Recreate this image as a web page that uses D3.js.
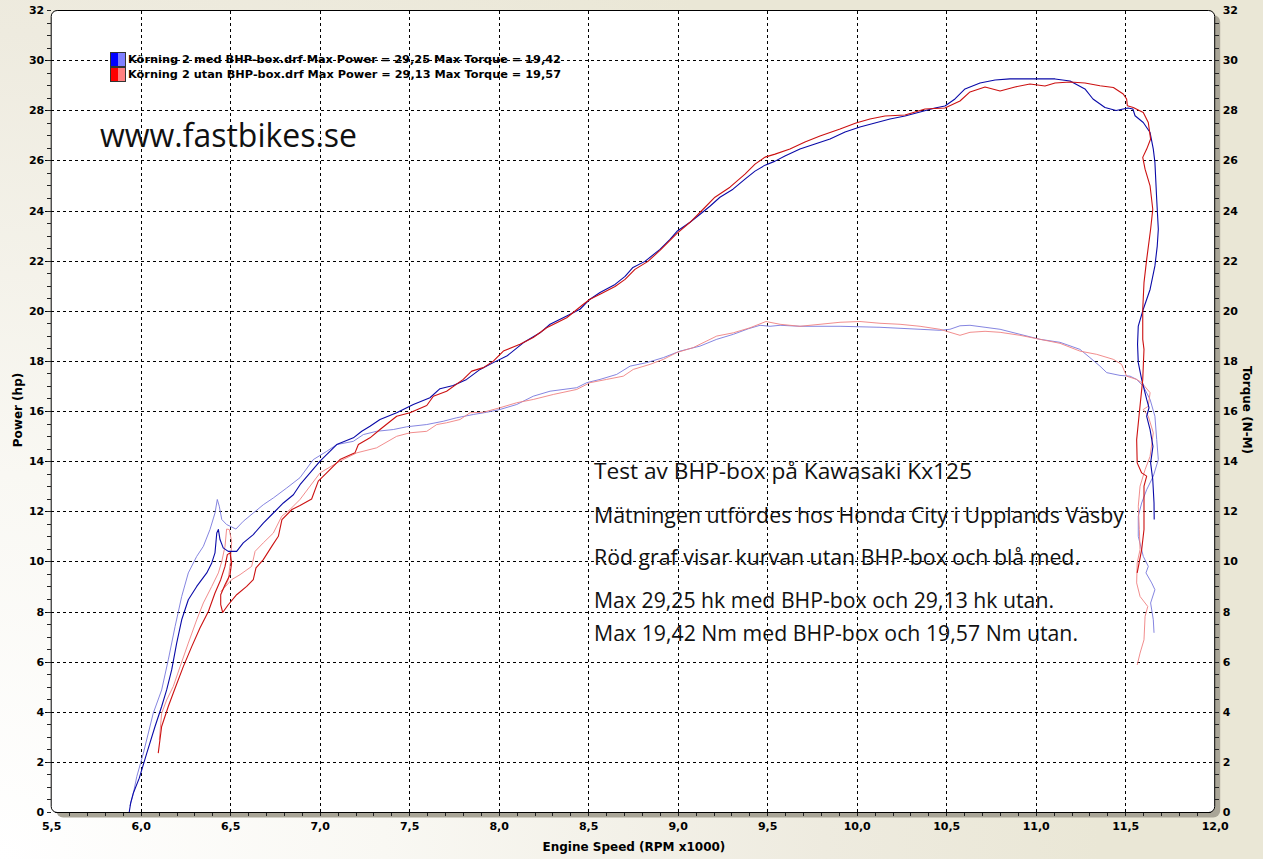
<!DOCTYPE html>
<html><head><meta charset="utf-8">
<script src="https://cdn.jsdelivr.net/npm/d3@7"></script>
<style>
html,body{margin:0;padding:0;overflow:hidden;background:#fff;}
svg{display:block;}
</style></head><body>
<svg id="c" width="1263" height="859"></svg>
<script>
// ---------- DATA ----------
const rpmTicks = [5.5,6.0,6.5,7.0,7.5,8.0,8.5,9.0,9.5,10.0,10.5,11.0,11.5,12.0];
const powerTicks = [0,2,4,6,8,10,12,14,16,18,20,22,24,26,28,30,32];
const torqueTicks = [0,2,4,6,8,10,12,14,16,18,20,22,24,26,28,30,32];
const xTitle = "Engine Speed (RPM x1000)";
const yTitleLeft = "Power (hp)";
const yTitleRight = "Torque (N-M)";
const legendLabels = [
  "Körning 2 med BHP-box.drf Max Power = 29,25 Max Torque = 19,42",
  "Körning 2 utan BHP-box.drf Max Power = 29,13 Max Torque = 19,57"
];
const siteLabel = "www.fastbikes.se";
const noteLines = [
  "Test av BHP-box på Kawasaki Kx125",
  "Mätningen utfördes hos Honda City i Upplands Väsby",
  "Röd graf visar kurvan utan BHP-box och blå med.",
  "Max 29,25 hk med BHP-box och 29,13 hk utan.",
  "Max 19,42 Nm med BHP-box och 19,57 Nm utan."
];

// [rpm x1000, hp]
const powerMed = [[5.936,0.0],[5.944,0.36],[5.959,0.76],[5.992,1.35],[6.034,2.35],[6.080,3.41],[6.117,4.21],[6.145,4.87],[6.173,5.67],[6.201,6.74],[6.229,7.67],[6.266,8.47],[6.313,9.00],[6.369,9.54],[6.397,9.94],[6.415,10.34],[6.425,11.13],[6.434,11.27],[6.443,10.87],[6.461,10.54],[6.489,10.40],[6.536,10.40],[6.573,10.74],[6.629,11.07],[6.685,11.53],[6.741,11.93],[6.797,12.33],[6.853,12.66],[6.890,13.06],[7.002,14.00],[7.095,14.66],[7.188,14.93],[7.235,15.19],[7.281,15.39],[7.337,15.66],[7.430,15.93],[7.523,16.26],[7.616,16.53],[7.672,16.89],[7.746,17.02],[7.821,17.26],[7.896,17.66],[7.970,17.93],[8.045,18.19],[8.137,18.72],[8.231,19.12],[8.287,19.46],[8.380,19.79],[8.454,20.06],[8.510,20.46],[8.566,20.73],[8.650,21.05],[8.706,21.37],[8.750,21.73],[8.817,21.97],[8.901,22.45],[8.957,22.85],[8.996,23.17],[9.069,23.53],[9.125,23.85],[9.180,24.17],[9.236,24.53],[9.309,24.85],[9.376,25.25],[9.432,25.57],[9.488,25.81],[9.544,25.97],[9.599,26.17],[9.683,26.45],[9.767,26.65],[9.851,26.85],[9.935,27.13],[10.018,27.33],[10.102,27.49],[10.186,27.65],[10.270,27.77],[10.354,27.93],[10.437,28.09],[10.493,28.17],[10.549,28.45],[10.605,28.85],[10.689,29.09],[10.773,29.21],[10.856,29.25],[10.968,29.25],[11.108,29.25],[11.192,29.17],[11.275,28.85],[11.320,28.45],[11.387,28.11],[11.449,27.99],[11.516,28.09],[11.543,28.05],[11.555,27.78],[11.601,27.51],[11.639,27.11],[11.657,26.45],[11.666,25.92],[11.676,24.45],[11.685,23.25],[11.679,22.58],[11.666,21.79],[11.639,20.85],[11.601,20.06],[11.573,19.39],[11.569,18.66],[11.573,17.93],[11.592,17.26],[11.620,16.46],[11.633,16.13],[11.620,15.79],[11.639,15.26],[11.655,14.59],[11.642,13.93],[11.654,13.26],[11.661,12.33],[11.662,11.67]];

const powerUtan = [[6.098,2.35],[6.117,3.41],[6.154,4.21],[6.192,4.94],[6.238,5.80],[6.285,6.60],[6.331,7.34],[6.378,8.00],[6.415,8.74],[6.447,9.27],[6.471,9.80],[6.484,10.27],[6.499,10.34],[6.508,9.94],[6.499,9.47],[6.471,9.07],[6.447,8.67],[6.447,8.27],[6.458,7.96],[6.489,8.27],[6.536,8.67],[6.592,9.00],[6.629,9.27],[6.644,9.74],[6.685,10.07],[6.732,10.60],[6.769,11.00],[6.789,11.67],[6.845,12.07],[6.890,12.23],[6.955,12.49],[6.992,13.20],[7.039,13.53],[7.113,14.06],[7.197,14.33],[7.216,14.66],[7.281,14.93],[7.337,15.26],[7.430,15.79],[7.504,15.93],[7.598,16.22],[7.635,16.59],[7.709,16.79],[7.802,17.26],[7.849,17.59],[7.914,17.73],[7.970,17.99],[8.026,18.39],[8.119,18.66],[8.193,18.93],[8.268,19.32],[8.380,19.72],[8.473,20.26],[8.510,20.46],[8.566,20.66],[8.650,20.97],[8.706,21.25],[8.761,21.65],[8.834,21.97],[8.901,22.41],[8.996,23.09],[9.069,23.53],[9.153,24.13],[9.208,24.53],[9.292,24.93],[9.376,25.45],[9.432,25.85],[9.488,26.13],[9.544,26.25],[9.627,26.45],[9.711,26.73],[9.795,26.97],[9.907,27.25],[9.996,27.49],[10.074,27.65],[10.158,27.77],[10.270,27.81],[10.382,28.05],[10.493,28.09],[10.577,28.37],[10.633,28.73],[10.717,28.93],[10.801,28.77],[10.884,28.93],[10.968,29.05],[11.052,28.97],[11.108,29.09],[11.192,29.13],[11.275,29.09],[11.359,28.98],[11.434,28.91],[11.489,28.65],[11.508,28.45],[11.512,28.18],[11.545,28.11],[11.601,27.91],[11.629,27.51],[11.642,26.85],[11.620,26.45],[11.598,26.12],[11.611,25.65],[11.639,24.98],[11.654,24.05],[11.642,23.25],[11.620,22.05],[11.605,21.12],[11.598,20.06],[11.598,18.86],[11.605,18.46],[11.598,17.26],[11.579,15.93],[11.564,14.86],[11.567,13.93],[11.592,13.53],[11.620,13.40],[11.605,13.00],[11.605,11.93],[11.605,11.27],[11.592,10.47],[11.567,9.54]];

// [rpm x1000, N-m]
const torqueMed = [[5.940,0.24],[5.957,0.68],[5.978,1.41],[6.015,2.35],[6.070,3.94],[6.117,4.87],[6.154,6.07],[6.192,7.40],[6.229,8.60],[6.266,9.54],[6.313,10.20],[6.350,10.60],[6.387,11.27],[6.415,11.93],[6.428,12.47],[6.439,12.20],[6.453,11.67],[6.480,11.47],[6.532,11.29],[6.573,11.60],[6.629,11.93],[6.685,12.26],[6.741,12.53],[6.816,12.93],[6.890,13.34],[6.964,14.06],[7.039,14.39],[7.095,14.66],[7.188,14.79],[7.244,15.06],[7.318,15.19],[7.411,15.26],[7.486,15.37],[7.598,15.46],[7.690,15.59],[7.765,15.73],[7.858,15.86],[7.933,15.95],[8.007,16.06],[8.101,16.26],[8.193,16.59],[8.287,16.79],[8.436,16.93],[8.492,17.13],[8.566,17.26],[8.659,17.46],[8.734,17.79],[8.827,17.93],[8.920,18.13],[9.013,18.39],[9.125,18.59],[9.218,18.86],[9.311,19.06],[9.394,19.28],[9.460,19.42],[9.516,19.38],[9.572,19.42],[9.683,19.38],[9.907,19.38],[10.130,19.34],[10.354,19.26],[10.465,19.22],[10.521,19.26],[10.577,19.40],[10.633,19.42],[10.717,19.34],[10.801,19.26],[10.912,19.06],[11.024,18.86],[11.136,18.74],[11.247,18.46],[11.303,18.13],[11.359,17.79],[11.397,17.53],[11.471,17.42],[11.527,17.39],[11.564,17.26],[11.601,16.99],[11.639,16.46],[11.666,15.79],[11.676,14.86],[11.685,14.06],[11.657,13.40],[11.620,12.86],[11.592,12.33],[11.573,11.80],[11.573,11.00],[11.601,10.20],[11.629,9.80],[11.616,9.54],[11.648,9.14],[11.666,8.87],[11.642,8.34],[11.657,7.67],[11.661,7.15]];

const torqueUtan = [[6.104,2.88],[6.117,3.94],[6.145,4.47],[6.182,5.01],[6.220,5.80],[6.266,6.74],[6.313,7.67],[6.350,8.34],[6.397,9.00],[6.434,9.54],[6.453,10.00],[6.471,10.60],[6.480,11.29],[6.495,11.27],[6.508,10.80],[6.503,10.07],[6.489,9.27],[6.471,9.00],[6.449,8.80],[6.508,9.27],[6.555,9.47],[6.620,9.80],[6.639,10.40],[6.685,10.74],[6.741,11.13],[6.788,11.80],[6.834,12.07],[6.890,12.47],[7.002,13.53],[7.113,14.00],[7.207,14.33],[7.318,14.53],[7.430,14.99],[7.504,15.13],[7.598,15.19],[7.654,15.46],[7.709,15.53],[7.784,15.66],[7.840,15.93],[7.914,15.95],[8.007,16.13],[8.101,16.33],[8.193,16.46],[8.305,16.66],[8.436,16.86],[8.510,17.13],[8.603,17.26],[8.696,17.39],[8.752,17.66],[8.845,17.86],[8.920,18.06],[8.994,18.33],[9.087,18.53],[9.218,18.99],[9.311,19.12],[9.404,19.32],[9.493,19.57],[9.572,19.46],[9.627,19.42],[9.683,19.38],[9.795,19.46],[9.907,19.54],[10.018,19.57],[10.130,19.50],[10.242,19.46],[10.354,19.38],[10.465,19.26],[10.521,19.14],[10.577,19.02],[10.633,19.14],[10.717,19.18],[10.801,19.14],[10.912,19.02],[11.024,18.86],[11.136,18.70],[11.247,18.39],[11.341,18.26],[11.434,18.06],[11.480,17.86],[11.508,17.39],[11.564,17.26],[11.592,17.13],[11.639,16.73],[11.629,16.19],[11.601,16.06],[11.629,15.79],[11.657,15.13],[11.639,14.19],[11.611,13.66],[11.583,13.00],[11.573,12.20],[11.579,11.27],[11.583,10.47],[11.567,9.94],[11.564,9.14],[11.583,8.60],[11.626,8.20],[11.611,7.80],[11.605,6.87],[11.583,6.34],[11.567,5.87]];

// ---------- LAYOUT ----------
const W = 1263, H = 859;
const svg = d3.select("#c");
const x = d3.scaleLinear().domain([5.5, 12]).range([51.2, 1214.7]);
const y = d3.scaleLinear().domain([0, 32]).range([812, 10]);
const yR = d3.scaleLinear().domain([0, 32]).range([812, 10]);
const X0 = x(5.5), X1 = x(12), Y0 = y(32), Y1 = y(0);
const tickFont = "'DejaVu Sans', Verdana, sans-serif";
const noteFont = "'Open Sans', 'Noto Sans', sans-serif";
const comma1 = d => d3.format(".1f")(d).replace(".", ",");

const defs = svg.append("defs");
const rg = defs.append("radialGradient").attr("id","bg").attr("gradientUnits","userSpaceOnUse")
  .attr("cx", 0).attr("cy", H).attr("r", 1100);
rg.append("stop").attr("offset","0%").attr("stop-color","#ffffff");
rg.append("stop").attr("offset","35%").attr("stop-color","#f9f8f3");
rg.append("stop").attr("offset","75%").attr("stop-color","#eeebdf");
rg.append("stop").attr("offset","100%").attr("stop-color","#eae7d6");
svg.append("rect").attr("width", W).attr("height", H).attr("fill", "url(#bg)");

// plot frame: grey shadow + white panel
svg.append("rect").attr("x", X0 + 5).attr("y", Y0 + 5).attr("width", X1 - X0 + 0.5).attr("height", Y1 - Y0 + 0.5)
  .attr("rx", 7).attr("fill", "#a9a597");
svg.append("rect").attr("x", X0).attr("y", Y0 + 0.5).attr("width", X1 - X0).attr("height", Y1 - Y0)
  .attr("rx", 6).attr("fill", "#ffffff").attr("stroke", "#000").attr("stroke-width", 1);

// grid lines
const grid = svg.append("g").attr("stroke", "#000").attr("stroke-width", 1)
  .attr("stroke-dasharray", "3,3").attr("shape-rendering", "crispEdges");
grid.selectAll("line.h").data(powerTicks.filter(d => d > 0 && d < 32)).join("line")
  .attr("x1", X0 - 6).attr("x2", X1).attr("y1", d => Math.round(y(d)) + 0.5).attr("y2", d => Math.round(y(d)) + 0.5);
grid.selectAll("line.v").data(rpmTicks.filter(d => d > 5.5 && d < 12)).join("line")
  .attr("class","v")
  .attr("y1", Y0 + 1).attr("y2", Y1).attr("x1", d => Math.round(x(d)) + 0.5).attr("x2", d => Math.round(x(d)) + 0.5);

// minor ticks with d3 axes
function styleTicks(g) {
  g.select(".domain").remove();
  g.selectAll(".tick line").attr("stroke", "#222").attr("shape-rendering", "crispEdges");
}
svg.append("g").attr("transform", `translate(${X0},0)`)
  .call(d3.axisLeft(y).tickValues(d3.range(0, 64.5, 1).map(d => d / 2)).tickSize(4).tickFormat(""))
  .call(styleTicks);
svg.append("g").attr("transform", `translate(${X1},0)`)
  .call(d3.axisRight(yR).tickValues(d3.range(1, 64, 1).map(d => d / 2)).tickSize(4).tickFormat(""))
  .call(styleTicks);
svg.append("g").attr("transform", `translate(0,${Y1})`)
  .call(d3.axisBottom(x).tickValues(d3.range(56, 120, 1).map(d => d / 10)).tickSize(4).tickFormat(""))
  .call(styleTicks);
// bottom axis line
svg.append("line").attr("x1", X0 + 4).attr("x2", X1 - 4).attr("y1", Y1 + 0.5).attr("y2", Y1 + 0.5)
  .attr("stroke", "#000").attr("stroke-width", 1.2);

// tick labels
function styleLabels(g) {
  g.select(".domain").remove();
  g.selectAll(".tick line").remove();
  g.selectAll("text").attr("font-family", tickFont).attr("font-weight", "bold")
    .attr("font-size", "11px").attr("fill", "#000");
}
svg.append("g").attr("transform", `translate(${X0},0)`)
  .call(d3.axisLeft(y).tickValues(powerTicks).tickSize(0).tickPadding(7).tickFormat(d3.format("d")))
  .call(styleLabels);
svg.append("g").attr("transform", `translate(${X1},0)`)
  .call(d3.axisRight(yR).tickValues(torqueTicks).tickSize(0).tickPadding(8).tickFormat(d3.format("d")))
  .call(styleLabels);
svg.append("g").attr("transform", `translate(0,${Y1})`)
  .call(d3.axisBottom(x).tickValues(rpmTicks).tickSize(0).tickPadding(10).tickFormat(comma1))
  .call(styleLabels);

// axis titles
svg.append("text").attr("x", (X0 + X1) / 2 + 1).attr("y", 851).attr("text-anchor", "middle")
  .attr("font-family", tickFont).attr("font-weight", "bold").attr("font-size", "12px").text(xTitle);
svg.append("text").attr("transform", "translate(22,410) rotate(-90)").attr("text-anchor", "middle")
  .attr("font-family", tickFont).attr("font-weight", "bold").attr("font-size", "12px").text(yTitleLeft);
svg.append("text").attr("transform", "translate(1243,410) rotate(90)").attr("text-anchor", "middle")
  .attr("font-family", tickFont).attr("font-weight", "bold").attr("font-size", "12px").text(yTitleRight);

// curves
const line = d3.line().x(d => x(d[0])).y(d => y(d[1]));
const lineR = d3.line().x(d => x(d[0])).y(d => yR(d[1]));
const series = [
  {data: torqueMed, gen: lineR, color: "#7777dd", w: 0.9},
  {data: torqueUtan, gen: lineR, color: "#ef8080", w: 0.9},
  {data: powerMed, gen: line, color: "#0a0aa8", w: 1.1},
  {data: powerUtan, gen: line, color: "#cc1111", w: 1.1}
];
svg.append("g").selectAll("path").data(series).join("path")
  .attr("d", s => s.gen(s.data)).attr("fill", "none")
  .attr("stroke", s => s.color).attr("stroke-width", s => s.w).attr("stroke-linejoin", "round");

// legend
const legendColors = [["#0000ff", "#8080ff"], ["#ff0000", "#ff8080"]];
const lg = svg.append("g");
legendLabels.forEach((t, i) => {
  const yy = 52 + i * 15;
  lg.append("rect").attr("x", 110).attr("y", yy).attr("width", 8).attr("height", 15).attr("fill", legendColors[i][0]);
  lg.append("rect").attr("x", 118).attr("y", yy).attr("width", 8).attr("height", 15).attr("fill", legendColors[i][1]);
  lg.append("rect").attr("x", 110.5).attr("y", yy + 0.5).attr("width", 15).attr("height", 14)
    .attr("fill", "none").attr("stroke", "#333").attr("stroke-width", 1);
  lg.append("text").attr("x", 128).attr("y", yy + 11).attr("font-family", tickFont).attr("font-weight", "bold")
    .attr("font-size", "10px").attr("textLength", 433).attr("lengthAdjust", "spacingAndGlyphs").text(t);
});

// site label and notes
svg.append("text").attr("x", 100).attr("y", 147).attr("font-family", noteFont)
  .attr("font-size", "33px").attr("fill", "#111").attr("textLength", 257).attr("lengthAdjust", "spacingAndGlyphs")
  .text(siteLabel);
const noteWidths = [378, 530, 486, 460, 484];
const noteBase = [479, 523, 565, 608, 641];
svg.append("g").selectAll("text").data(noteLines).join("text")
  .attr("x", 594).attr("y", (d, i) => noteBase[i])
  .attr("font-family", noteFont).attr("font-size", "22px").attr("fill", "#111")
  .attr("textLength", (d, i) => noteWidths[i]).attr("lengthAdjust", "spacingAndGlyphs")
  .text(d => d);
</script>
</body></html>
